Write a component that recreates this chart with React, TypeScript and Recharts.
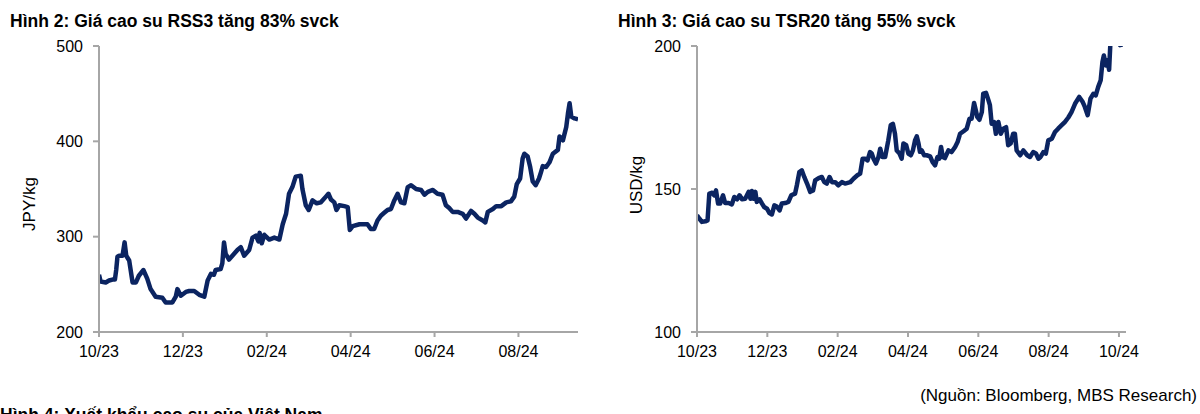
import React from "react";
import { LineChart, Line, XAxis, YAxis } from "recharts";

// months since Oct 2023 (0 = 10/23)
const rssMonths = [0, 0.04, 0.16, 0.24, 0.32, 0.38, 0.41, 0.44, 0.48, 0.56, 0.61, 0.65, 0.72, 0.8, 0.88, 0.95, 1.06, 1.15, 1.23, 1.35, 1.51, 1.59, 1.75, 1.83, 1.87, 1.95, 2.07, 2.15, 2.27, 2.39, 2.51, 2.59, 2.67, 2.74, 2.78, 2.9, 2.94, 2.98, 3.02, 3.1, 3.18, 3.3, 3.38, 3.46, 3.58, 3.66, 3.74, 3.8, 3.83, 3.88, 3.94, 4.06, 4.18, 4.3, 4.38, 4.46, 4.53, 4.61, 4.69, 4.81, 4.85, 4.93, 5.0, 5.09, 5.19, 5.29, 5.41, 5.47, 5.53, 5.61, 5.66, 5.73, 5.85, 5.93, 5.98, 6.05, 6.21, 6.4, 6.48, 6.56, 6.64, 6.72, 6.8, 6.88, 6.96, 7.04, 7.12, 7.2, 7.28, 7.36, 7.44, 7.56, 7.68, 7.76, 7.84, 7.96, 8.07, 8.19, 8.27, 8.35, 8.43, 8.55, 8.67, 8.75, 8.87, 8.95, 9.03, 9.15, 9.21, 9.27, 9.39, 9.47, 9.59, 9.71, 9.82, 9.9, 9.96, 10.04, 10.1, 10.14, 10.22, 10.28, 10.34, 10.41, 10.49, 10.54, 10.58, 10.66, 10.74, 10.82, 10.94, 10.98, 11.06, 11.14, 11.18, 11.22, 11.26, 11.34, 11.42];
const rssPrice = [260, 253, 252, 254, 255, 255, 265, 279, 280, 280, 294, 280, 275, 252, 252, 259, 265, 256, 245, 237, 236, 231, 231, 237, 245, 238, 242, 243, 243, 239, 237, 254, 261, 260, 265, 266, 272, 294, 282, 276, 280, 286, 289, 280, 286, 299, 301, 295, 304, 293, 302, 297, 299, 297, 313, 324, 345, 352, 363, 364, 350, 333, 328, 338, 335, 336, 342, 345, 339, 336, 328, 333, 332, 331, 307, 311, 313, 313, 308, 308, 317, 322, 325, 328, 329, 338, 345, 336, 335, 352, 354, 350, 349, 344, 347, 349, 345, 344, 333, 330, 326, 326, 324, 319, 327, 324, 320, 317, 315, 326, 329, 332, 332, 336, 337, 342, 355, 361, 382, 387, 384, 373, 358, 354, 361, 368, 374, 373, 378, 387, 391, 405, 401, 415, 429, 440, 426, 424, 423];

const tsrMonths = [0, 0.07, 0.14, 0.24, 0.3, 0.35, 0.43, 0.49, 0.54, 0.6, 0.66, 0.74, 0.8, 0.9, 0.99, 1.06, 1.14, 1.21, 1.28, 1.37, 1.47, 1.52, 1.56, 1.61, 1.66, 1.7, 1.78, 1.85, 1.91, 1.99, 2.06, 2.13, 2.2, 2.27, 2.35, 2.41, 2.51, 2.6, 2.68, 2.79, 2.84, 2.91, 2.98, 3.05, 3.13, 3.22, 3.3, 3.36, 3.46, 3.55, 3.62, 3.69, 3.77, 3.84, 3.93, 4.02, 4.12, 4.21, 4.36, 4.45, 4.56, 4.64, 4.71, 4.78, 4.85, 4.92, 4.97, 5.02, 5.09, 5.16, 5.21, 5.27, 5.35, 5.44, 5.51, 5.57, 5.63, 5.68, 5.76, 5.82, 5.87, 5.95, 6.01, 6.08, 6.14, 6.2, 6.25, 6.3, 6.34, 6.39, 6.46, 6.53, 6.63, 6.7, 6.77, 6.84, 6.89, 6.94, 6.99, 7.05, 7.15, 7.24, 7.34, 7.41, 7.48, 7.58, 7.67, 7.75, 7.81, 7.88, 7.94, 7.97, 8.03, 8.1, 8.14, 8.22, 8.29, 8.33, 8.38, 8.45, 8.5, 8.57, 8.64, 8.71, 8.79, 8.85, 8.92, 8.99, 9.04, 9.09, 9.19, 9.28, 9.39, 9.47, 9.56, 9.64, 9.71, 9.77, 9.85, 9.92, 9.99, 10.09, 10.18, 10.27, 10.37, 10.46, 10.56, 10.65, 10.75, 10.87, 10.97, 11.03, 11.11, 11.19, 11.27, 11.34, 11.41, 11.48, 11.53, 11.57, 11.63, 11.67, 11.72, 11.76, 11.82, 11.88, 11.95, 12.03, 12.1];
const tsrPrice = [140.8, 139.6, 138.5, 138.7, 139, 148.4, 148.7, 147.8, 149.5, 144.9, 144.9, 147.8, 145.1, 145.1, 144.6, 147.2, 146.4, 147.8, 146.4, 146.6, 149, 146.6, 149.3, 146.6, 149, 145.5, 146.4, 144.9, 143.7, 143.1, 141.6, 141.1, 144.3, 143.9, 142.5, 144.9, 145.1, 145.5, 147.8, 148.4, 151.3, 155.9, 156.5, 154.2, 151.9, 149, 149.5, 153, 153.8, 154.2, 152.4, 151.9, 154.2, 152.4, 152.4, 151.3, 152.4, 151.9, 152.4, 153.6, 154.8, 155.4, 160.6, 160.6, 160, 162.9, 162.4, 160.6, 158.9, 161.2, 164.1, 161.2, 161.2, 167, 172.3, 172.8, 169.3, 163.5, 162.4, 160.6, 165.9, 165.3, 162.4, 161.8, 163.5, 167, 168.4, 165.9, 163, 163.5, 161.8, 161.8, 161.4, 159.4, 158.3, 161.2, 160.6, 164.7, 161.2, 160.8, 163.5, 162.9, 164.7, 166.4, 169.3, 170.2, 171.1, 174.6, 174.6, 180.1, 176.9, 175.2, 174.2, 176.9, 183.3, 183.6, 181, 179.3, 172.8, 173.4, 169.3, 173.4, 169.3, 171.1, 171.6, 165.3, 165.9, 169.3, 169.3, 163.5, 161.8, 163.5, 161.8, 161.2, 162.9, 162.4, 160.6, 161.2, 162.9, 162.4, 167, 167.6, 169.9, 171.1, 172.3, 173.4, 175, 176.9, 179.8, 182.2, 180.4, 178.7, 175.8, 181.6, 183.3, 182.7, 185.7, 188, 194.4, 196.7, 193.2, 195, 191.7, 202, 204, 205, 204, 200.3, 200.5];

const monthTicks = [0, 2, 4, 6, 8, 10, 12];
const monthLabels = ["10/23", "12/23", "02/24", "04/24", "06/24", "08/24", "10/24"];
const rssTicks = [200, 300, 400, 500];
const tsrTicks = [100, 150, 200];

const rssData = rssMonths.map((t, i) => ({ t, v: rssPrice[i] }));
const tsrData = tsrMonths.map((t, i) => ({ t, v: tsrPrice[i] }));

const FONT = "Arial, 'Liberation Sans', sans-serif";
const NAVY = "#0b2461";
const AXIS = "#a6a6a6";
const tickStyle = { fill: "#000", fontSize: 16, fontFamily: FONT };

const fmtMonth = (t: number) => monthLabels[monthTicks.indexOf(t)] ?? "";

function PriceChart({ data, xMax, xTicks, yDomain, yTicks, margin }: any) {
  return (
    <LineChart width={600} height={380} data={data} margin={margin}>
      <XAxis
        dataKey="t"
        type="number"
        domain={[0, xMax]}
        ticks={xTicks}
        tickFormatter={fmtMonth}
        stroke={AXIS}
        strokeWidth={2}
        tickSize={5}
        tickMargin={9}
        tick={tickStyle}
        height={30}
        allowDataOverflow
        interval={0}
      />
      <YAxis
        type="number"
        domain={yDomain}
        ticks={yTicks}
        stroke={AXIS}
        strokeWidth={2}
        tickSize={6}
        tickMargin={10}
        tick={tickStyle}
        width={60}
        allowDataOverflow
        interval={0}
      />
      <Line
        type="linear"
        dataKey="v"
        stroke={NAVY}
        strokeWidth={4.5}
        strokeLinejoin="round"
        dot={false}
        isAnimationActive={false}
      />
    </LineChart>
  );
}

const titleStyle: React.CSSProperties = {
  position: "absolute",
  fontFamily: FONT,
  fontWeight: "bold",
  fontSize: 17.5,
  color: "#000",
  whiteSpace: "nowrap",
  lineHeight: "20px",
};

const unitStyle: React.CSSProperties = {
  position: "absolute",
  fontFamily: FONT,
  fontSize: 17,
  color: "#000",
  whiteSpace: "nowrap",
  transform: "translate(-50%, -50%) rotate(-90deg)",
};

export default function App() {
  return (
    <div style={{ position: "absolute", left: 0, top: 0, width: 1200, height: 414, overflow: "hidden", background: "#fff" }}>
      <div style={{ ...titleStyle, left: 10, top: 11 }}>Hình 2: Giá cao su RSS3 tăng 83% svck</div>
      <div style={{ ...titleStyle, left: 618, top: 11 }}>Hình 3: Giá cao su TSR20 tăng 55% svck</div>

      <div style={{ position: "absolute", left: 0, top: 0 }}>
        <PriceChart
          data={rssData}
          xMax={11.42}
          xTicks={monthTicks.slice(0, 6)}
          yDomain={[200, 500]}
          yTicks={rssTicks}
          margin={{ top: 46, right: 22, bottom: 18, left: 39 }}
        />
      </div>
      <div style={{ ...unitStyle, left: 30, top: 204 }}>JPY/kg</div>

      <div style={{ position: "absolute", left: 600, top: 0 }}>
        <PriceChart
          data={tsrData}
          xMax={12.2}
          xTicks={monthTicks}
          yDomain={[100, 200]}
          yTicks={tsrTicks}
          margin={{ top: 46, right: 74, bottom: 18, left: 37 }}
        />
      </div>
      <div style={{ ...unitStyle, left: 637, top: 185 }}>USD/kg</div>

      <div style={{ position: "absolute", right: 3, top: 386, fontFamily: FONT, fontSize: 17, color: "#000", whiteSpace: "nowrap" }}>
        (Nguồn: Bloomberg, MBS Research)
      </div>
      <div style={{ ...titleStyle, left: 0, top: 405 }}>Hình 4: Xuất khẩu cao su của Việt Nam</div>
    </div>
  );
}
